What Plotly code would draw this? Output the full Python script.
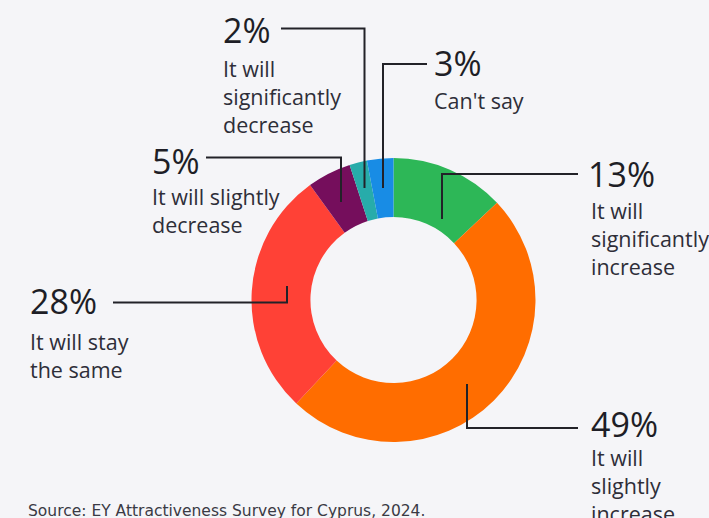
import plotly.graph_objects as go

# Survey responses, clockwise from 12 o'clock
answers = ["It will significantly increase", "It will slightly increase",
           "It will stay the same", "It will slightly decrease",
           "It will significantly decrease", "Can't say"]
shares = [13, 49, 28, 5, 2, 3]
slice_colors = ["#2db757", "#ff6d00", "#ff4136", "#750e5c", "#27acaa", "#188ce5"]

# Wrapped label text shown beside each percentage
label_lines = ["It will<br>significantly<br>increase",
               "It will<br>slightly<br>increase",
               "It will stay<br>the same",
               "It will slightly<br>decrease",
               "It will<br>significantly<br>decrease",
               "Can't say"]

source_note = "Source: EY Attractiveness Survey for Cyprus, 2024."

W, H = 709, 518
BG = "#f5f5f8"
INK = "#2e2e38"
FONT = "Open Sans"


def px(x):
    return x / W


def py(y):
    return 1 - y / H


cx, cy, r = 393.5, 300, 142

fig = go.Figure(go.Pie(
    labels=answers,
    values=shares,
    sort=False,
    direction="clockwise",
    rotation=0,
    hole=0.585,
    marker=dict(colors=slice_colors, line=dict(width=0)),
    textinfo="none",
    hoverinfo="label+percent",
    showlegend=False,
    domain=dict(x=[px(cx - r), px(cx + r)], y=[py(cy + r), py(cy - r)]),
))

# Leader lines: (points in pixel space)
leaders = [
    [(578, 174), (442, 174), (442, 219)],      # 13%
    [(578, 428), (467, 428), (467, 384)],      # 49%
    [(113, 302.5), (287, 302.5), (287, 286)],  # 28%
    [(206, 157.5), (341, 157.5), (341, 202)],  # 5%
    [(281, 28.5), (364.5, 28.5), (364.5, 188)],  # 2%
    [(427, 64), (383, 64), (383, 188)],        # 3%
]
for pts in leaders:
    path = "M " + " L ".join(f"{px(x)},{py(y)}" for x, y in pts)
    fig.add_shape(type="path", path=path, xref="paper", yref="paper",
                  line=dict(color="#222228", width=2), layer="above")

# Text anchors: (pct x, pct center y, label x, label top y)
anchors = [
    (588, 174.5, 591, 194),
    (591, 424, 591, 441),
    (30, 300.5, 30, 325),
    (151.5, 161, 152, 180),
    (223, 30, 223, 52),
    (434, 63, 434, 84),
]
for (ax, ay, lx, ly), v, txt in zip(anchors, shares, label_lines):
    fig.add_annotation(x=px(ax - 2), y=py(ay), xref="paper", yref="paper",
                       text=f"{v}%", showarrow=False, xanchor="left",
                       yanchor="middle",
                       font=dict(family=FONT, size=34, color="#1e1e26"))
    fig.add_annotation(x=px(lx - 2), y=py(ly), xref="paper", yref="paper",
                       text=txt, showarrow=False, xanchor="left",
                       yanchor="top", align="left",
                       font=dict(family=FONT, size=21.5, color=INK))

fig.add_annotation(x=px(26), y=py(511), xref="paper", yref="paper",
                   text=source_note, showarrow=False, xanchor="left",
                   yanchor="middle",
                   font=dict(family="DejaVu Sans", size=15.5, color="#3a3a44"))

fig.update_layout(
    width=W, height=H,
    margin=dict(l=0, r=0, t=0, b=0),
    paper_bgcolor=BG, plot_bgcolor=BG,
)

fig.write_html("out.html")
